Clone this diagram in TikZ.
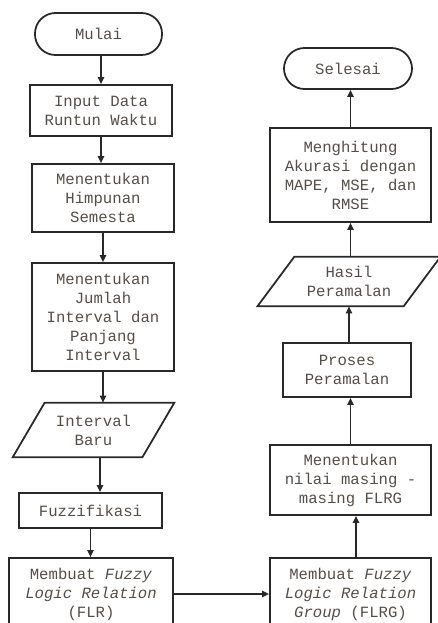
\documentclass[tikz,border=0pt]{standalone}
\usepackage{fontspec}
\setmonofont{Liberation Mono}
\usepackage{tikz}
\usetikzlibrary{arrows.meta,calc,positioning}
\definecolor{boxline}{RGB}{40,40,40}
\definecolor{textgray}{RGB}{85,78,72}
\tikzset{
    % 流程框
    procbox/.style={
        draw=boxline,
        line width=1pt,
        rectangle,
        align=center,
        inner sep=0pt,
        text=textgray,
        font=\ttfamily\fontsize{8.9}{10.8}\selectfont
    },
    termbox/.style={procbox, rounded corners=0.41cm},
    % 输入输出框（平行四边形另画）
    iobox/.style={
        rectangle,
        align=center,
        inner sep=0pt,
        text=textgray,
        font=\ttfamily\fontsize{8.9}{10.8}\selectfont
    },
    ioline/.style={draw=boxline, line width=1pt},
    flowarrow/.style={
        line width=0.8pt,
        boxline,
        -{Triangle[length=4pt, width=3.6pt]}
    }
}
\begin{document}
\begin{tikzpicture}
\useasboundingbox (0,0) rectangle (8.76,-12.46);

% ===================== 左列 =====================
\node[termbox, minimum width=2.54cm, minimum height=0.84cm] (mulai) at (1.97,-0.68) {Mulai};
\node[procbox, minimum width=2.84cm, minimum height=1.02cm] (input) at (2.02,-2.21) {Input Data\\Runtun Waktu};
\node[procbox, minimum width=2.84cm, minimum height=1.36cm] (semesta) at (2.06,-3.96) {Menentukan\\Himpunan\\Semesta};
\node[procbox, minimum width=2.84cm, minimum height=2.16cm] (jumlah) at (2.06,-6.34) {Menentukan\\Jumlah\\Interval dan\\Panjang\\Interval};
\node[iobox, minimum width=2.58cm, minimum height=1.08cm] (baru) at (1.87,-8.60) {Interval\\Baru};
\draw[ioline] ([xshift=0.32cm]baru.north west) -- ([xshift=0.32cm]baru.north east)
    -- ([xshift=-0.32cm]baru.south east) -- ([xshift=-0.32cm]baru.south west) -- cycle;
\node[procbox, minimum width=2.86cm, minimum height=0.70cm] (fuzz) at (1.81,-10.21) {Fuzzifikasi};
\node[procbox, minimum width=3.28cm, minimum height=1.44cm] (flr) at (1.82,-11.88) {Membuat \textit{Fuzzy}\\\textit{Logic Relation}\\(FLR)};

% ===================== 右列 =====================
\node[termbox, minimum width=2.56cm, minimum height=0.82cm] (selesai) at (6.96,-1.37) {Selesai};
\node[procbox, minimum width=3.22cm, minimum height=1.88cm] (akurasi) at (7.01,-3.50) {Menghitung\\Akurasi dengan\\MAPE, MSE, dan\\RMSE};
\node[iobox, minimum width=2.91cm, minimum height=0.98cm] (hasil) at (6.98,-5.63) {Hasil\\Peramalan};
\draw[ioline] ([xshift=0.37cm]hasil.north west) -- ([xshift=0.37cm]hasil.north east)
    -- ([xshift=-0.37cm]hasil.south east) -- ([xshift=-0.37cm]hasil.south west) -- cycle;
\node[procbox, minimum width=2.56cm, minimum height=1.08cm] (proses) at (6.94,-7.40) {Proses\\Peramalan};
\node[procbox, minimum width=3.22cm, minimum height=1.40cm] (nilai) at (7.01,-9.60) {Menentukan\\nilai masing -\\masing FLRG};
\node[procbox, minimum width=3.22cm, minimum height=1.44cm] (flrg) at (7.01,-11.88) {Membuat \textit{Fuzzy}\\\textit{Logic Relation}\\\textit{Group} (FLRG)};

% 箭头
\draw[flowarrow] (input.north |- mulai.south) -- (input.north);
\draw[flowarrow] (input.south) -- (input.south |- semesta.north);
\draw[flowarrow] (semesta.south) -- (semesta.south |- jumlah.north);
\draw[flowarrow] (jumlah.south) -- (jumlah.south |- baru.north);
\draw[flowarrow] ([xshift=0.13cm]baru.south) -- ([xshift=0.13cm]baru.south |- fuzz.north);
\draw[flowarrow] (fuzz.south) -- (fuzz.south |- flr.north);
\draw[flowarrow] (flr.east) -- (flrg.west);
\draw[flowarrow] ([xshift=0.11cm]flrg.north) -- ([xshift=0.11cm]flrg.north |- nilai.south);
\draw[flowarrow] (nilai.north) -- (nilai.north |- proses.south);
\draw[flowarrow] (hasil.south |- proses.north) -- (hasil.south);
\draw[flowarrow] (akurasi.south |- hasil.north) -- (akurasi.south);
\draw[flowarrow] (akurasi.north) -- (akurasi.north |- selesai.south);
\end{tikzpicture}
\end{document}
